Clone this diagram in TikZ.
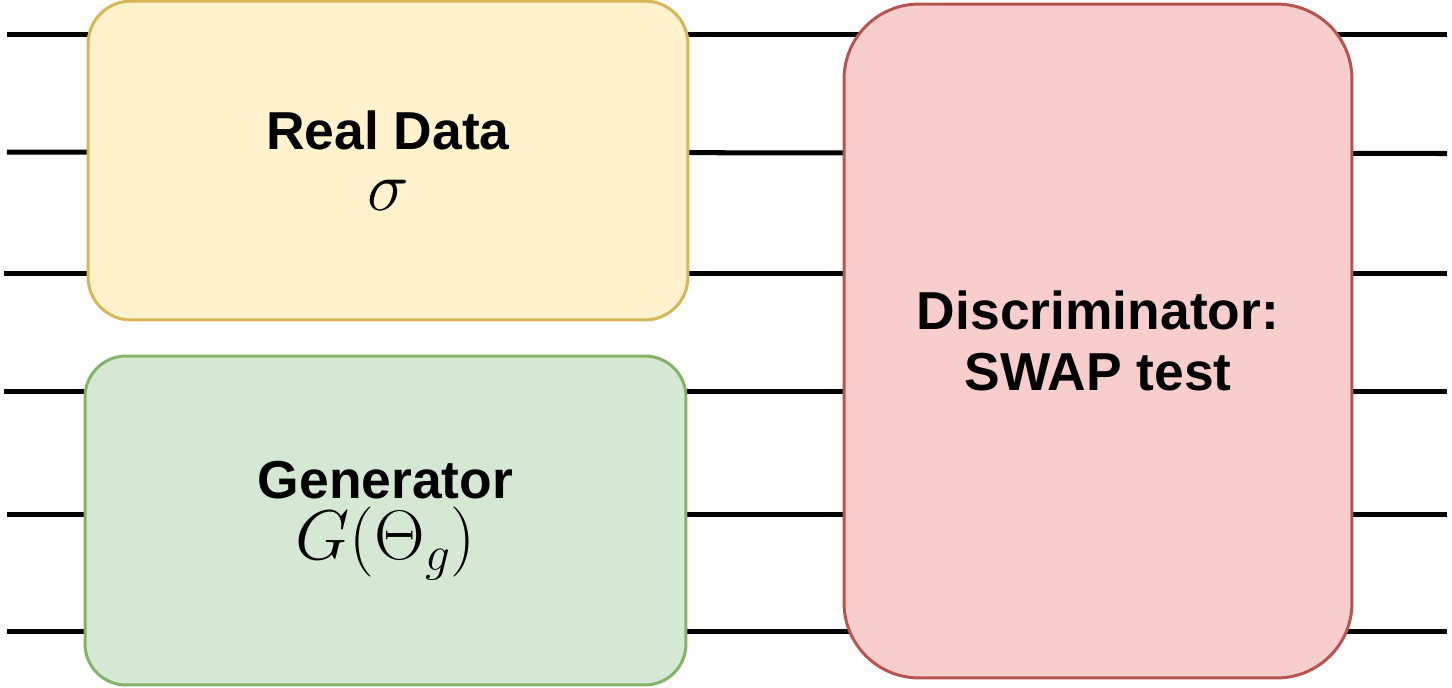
\RequirePackage{fix-cm}
\documentclass[tikz,border=0pt]{standalone}
\usepackage{fontspec}
\setmainfont{Liberation Sans}
\usetikzlibrary{positioning}
\definecolor{colreal}{RGB}{255,242,204}
\definecolor{colrealline}{RGB}{214,182,86}
\definecolor{colgen}{RGB}{213,232,212}
\definecolor{colgenline}{RGB}{130,179,102}
\definecolor{coldisc}{RGB}{248,206,204}
\definecolor{coldiscline}{RGB}{184,84,80}
\pgfdeclarelayer{bg}
\pgfsetlayers{bg,main}
\tikzset{
  frame/.style={
    rectangle,
    align=center,
    text = black,
    line width=1.7pt,
    font=\fontsize{30.4}{35}\selectfont\bfseries
  },
  % REAL DATA BOX
  frameReal/.style={
    frame,
    fill = colreal,
    draw = colrealline,
    rounded corners=0.86cm,
    minimum width=12cm,
    minimum height=6.38cm
  },
  % GENERATOR BOX
  frameGen/.style={
    frame,
    fill = colgen,
    draw = colgenline,
    rounded corners=0.82cm,
    minimum width=12.02cm,
    minimum height=6.58cm
  },
  % DISCRIMINATOR BOX
  frameDisc/.style={
    frame,
    fill = coldisc,
    draw = coldiscline,
    rounded corners=1.5cm,
    minimum width=10.16cm,
    minimum height=13.48cm
  },
  % QUBIT WIRES
  lineWire/.style={
    draw=black,line width=2.85pt
  }
}

\begin{document}
\begin{tikzpicture}[x=0.02cm,y=-0.02cm]

\useasboundingbox (0,0) rectangle (1452,687) ;

% Boxes
\node [frameReal] (real_data) at (388,160.5) {Real Data \\ {\fontsize{40}{35}\selectfont$\sigma$}} ;
\node [frameGen] (generator) at (385.5,520.5) {Generator \\ {\fontsize{40}{35}\selectfont$G(\Theta_g)$}} ;
\node [frameDisc] (discriminator) at (1098,341) {Discriminator: \\ SWAP test} ;

% Wire ends
\coordinate (in1) at (7,34) ;
\coordinate (in2) at (7,152) ;
\coordinate (in3) at (4,273.5) ;
\coordinate (in4) at (4,391) ;
\coordinate (in5) at (7,514) ;
\coordinate (in6) at (7,631) ;

\coordinate (out1) at (1447,34) ;
\coordinate (out2) at (1447,153.5) ;
\coordinate (out3) at (1447,273.5) ;
\coordinate (out4) at (1447,391) ;
\coordinate (out5) at (1447,514) ;
\coordinate (out6) at (1447,631) ;

% Wires behind the boxes
\begin{pgfonlayer}{bg}
\path [lineWire] (in1) -- (out1) ;
\path [lineWire] (in2) -- (out2) ;
\path [lineWire] (in3) -- (out3) ;
\path [lineWire] (in4) -- (out4) ;
\path [lineWire] (in5) -- (out5) ;
\path [lineWire] (in6) -- (out6) ;
\end{pgfonlayer}

\end{tikzpicture}
\end{document}
